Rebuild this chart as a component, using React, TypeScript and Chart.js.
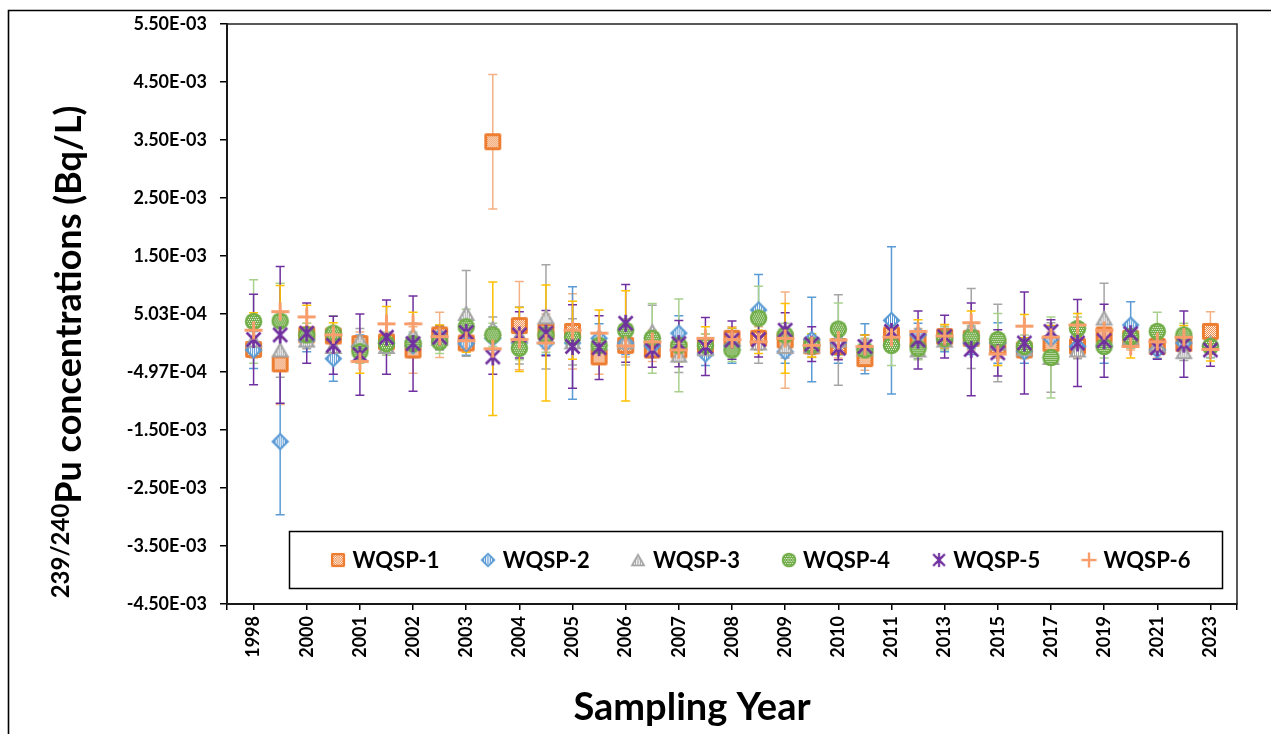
import React, { useEffect, useRef } from 'react';
import { Chart, registerables } from 'chart.js';

Chart.register(...registerables);

// ---------------- DATA ----------------
const categories = [
  '1998', '1999', '2000', '2000', '2001', '2001', '2002', '2002', '2003', '2003',
  '2004', '2004', '2005', '2005', '2006', '2006', '2007', '2007', '2008', '2008',
  '2009', '2009', '2010', '2010', '2011', '2012', '2013', '2014', '2015', '2016',
  '2017', '2018', '2019', '2020', '2021', '2022', '2023',
];

const seriesNames = ['WQSP-1', 'WQSP-2', 'WQSP-3', 'WQSP-4', 'WQSP-5', 'WQSP-6'];

// values in Bq/L
const wqsp1 = [-0.11e-3, -0.36e-3, 0.14e-3, 0.12e-3, -0.01e-3, 0.02e-3, -0.12e-3, 0.14e-3, 0.0, 3.47e-3, 0.30e-3, 0.20e-3, 0.20e-3, -0.24e-3, -0.04e-3, -0.12e-3, -0.12e-3, -0.05e-3, 0.08e-3, 0.08e-3, 0.05e-3, -0.05e-3, -0.06e-3, -0.27e-3, 0.14e-3, 0.05e-3, 0.11e-3, 0.08e-3, -0.06e-3, -0.12e-3, -0.01e-3, -0.06e-3, 0.14e-3, 0.08e-3, -0.06e-3, -0.01e-3, 0.20e-3];
const wqsp1Err = [0.15e-3, 0.70e-3, 0.20e-3, 0.15e-3, 0.20e-3, 0.15e-3, 0.40e-3, 0.39e-3, 0.15e-3, 1.16e-3, 0.76e-3, 0.30e-3, 0.65e-3, 0.30e-3, 0.20e-3, 0.20e-3, 0.20e-3, 0.20e-3, 0.20e-3, 0.20e-3, 0.83e-3, 0.20e-3, 0.20e-3, 0.20e-3, 0.20e-3, 0.20e-3, 0.20e-3, 0.20e-3, 0.20e-3, 0.15e-3, 0.20e-3, 0.20e-3, 0.20e-3, 0.20e-3, 0.20e-3, 0.20e-3, 0.34e-3];

const wqsp2 = [-0.12e-3, -1.70e-3, 0.05e-3, -0.27e-3, -0.06e-3, 0.0, -0.05e-3, 0.10e-3, -0.01e-3, 0.08e-3, 0.0, 0.0, 0.0, 0.08e-3, 0.0, -0.05e-3, 0.17e-3, -0.19e-3, -0.05e-3, 0.57e-3, -0.15e-3, 0.06e-3, 0.0, -0.10e-3, 0.39e-3, 0.14e-3, 0.05e-3, 0.0, 0.0, -0.15e-3, 0.08e-3, -0.06e-3, -0.05e-3, 0.31e-3, -0.12e-3, 0.0, -0.05e-3];
const wqsp2Err = [0.32e-3, 1.26e-3, 0.20e-3, 0.39e-3, 0.20e-3, 0.15e-3, 0.20e-3, 0.15e-3, 0.20e-3, 0.20e-3, 0.20e-3, 0.20e-3, 0.97e-3, 0.25e-3, 0.20e-3, 0.20e-3, 0.30e-3, 0.20e-3, 0.30e-3, 0.61e-3, 0.20e-3, 0.73e-3, 0.35e-3, 0.43e-3, 1.27e-3, 0.20e-3, 0.20e-3, 0.20e-3, 0.35e-3, 0.20e-3, 0.20e-3, 0.15e-3, 0.30e-3, 0.40e-3, 0.15e-3, 0.15e-3, 0.20e-3];

const wqsp3 = [0.05e-3, -0.12e-3, 0.05e-3, -0.06e-3, 0.05e-3, -0.06e-3, 0.14e-3, 0.08e-3, 0.51e-3, 0.25e-3, 0.13e-3, 0.45e-3, 0.02e-3, 0.0, 0.02e-3, 0.20e-3, -0.21e-3, -0.10e-3, 0.0, 0.0, -0.06e-3, -0.05e-3, 0.05e-3, -0.10e-3, 0.10e-3, -0.12e-3, 0.05e-3, 0.25e-3, 0.0, -0.10e-3, -0.25e-3, -0.12e-3, 0.43e-3, 0.10e-3, -0.04e-3, -0.15e-3, 0.0];
const wqsp3Err = [0.20e-3, 0.47e-3, 0.15e-3, 0.20e-3, 0.20e-3, 0.15e-3, 0.20e-3, 0.20e-3, 0.74e-3, 0.20e-3, 0.49e-3, 0.90e-3, 0.40e-3, 0.15e-3, 0.40e-3, 0.45e-3, 0.30e-3, 0.15e-3, 0.15e-3, 0.35e-3, 0.20e-3, 0.15e-3, 0.78e-3, 0.15e-3, 0.15e-3, 0.15e-3, 0.15e-3, 0.69e-3, 0.67e-3, 0.15e-3, 0.60e-3, 0.15e-3, 0.60e-3, 0.15e-3, 0.15e-3, 0.15e-3, 0.15e-3];

const wqsp4 = [0.37e-3, 0.38e-3, 0.14e-3, 0.17e-3, -0.15e-3, -0.01e-3, -0.01e-3, 0.02e-3, 0.28e-3, 0.14e-3, -0.09e-3, 0.14e-3, 0.10e-3, -0.04e-3, 0.22e-3, 0.08e-3, -0.04e-3, -0.04e-3, -0.12e-3, 0.43e-3, 0.14e-3, -0.04e-3, 0.24e-3, -0.12e-3, -0.04e-3, -0.09e-3, 0.08e-3, 0.10e-3, 0.06e-3, -0.06e-3, -0.25e-3, 0.25e-3, -0.06e-3, 0.11e-3, 0.20e-3, 0.14e-3, -0.06e-3];
const wqsp4Err = [0.72e-3, 0.65e-3, 0.20e-3, 0.30e-3, 0.20e-3, 0.20e-3, 0.20e-3, 0.20e-3, 0.30e-3, 0.20e-3, 0.20e-3, 0.30e-3, 0.20e-3, 0.20e-3, 0.20e-3, 0.60e-3, 0.80e-3, 0.20e-3, 0.20e-3, 0.55e-3, 0.20e-3, 0.20e-3, 0.45e-3, 0.20e-3, 0.35e-3, 0.20e-3, 0.20e-3, 0.20e-3, 0.45e-3, 0.20e-3, 0.70e-3, 0.20e-3, 0.20e-3, 0.20e-3, 0.33e-3, 0.20e-3, 0.20e-3];

const wqsp5 = [0.06e-3, 0.14e-3, 0.17e-3, -0.04e-3, -0.20e-3, 0.10e-3, -0.01e-3, 0.10e-3, 0.18e-3, -0.24e-3, 0.14e-3, 0.17e-3, -0.06e-3, -0.08e-3, 0.34e-3, -0.12e-3, -0.01e-3, -0.06e-3, 0.05e-3, 0.06e-3, 0.22e-3, -0.02e-3, -0.09e-3, -0.06e-3, 0.20e-3, 0.05e-3, 0.11e-3, -0.11e-3, -0.17e-3, 0.0, 0.20e-3, 0.0, 0.04e-3, 0.16e-3, -0.08e-3, -0.02e-3, -0.12e-3];
const wqsp5Err = [0.78e-3, 1.18e-3, 0.52e-3, 0.50e-3, 0.70e-3, 0.64e-3, 0.82e-3, 0.20e-3, 0.30e-3, 0.30e-3, 0.40e-3, 0.39e-3, 0.72e-3, 0.55e-3, 0.67e-3, 0.30e-3, 0.40e-3, 0.50e-3, 0.33e-3, 0.30e-3, 0.30e-3, 0.30e-3, 0.20e-3, 0.20e-3, 0.20e-3, 0.50e-3, 0.37e-3, 0.80e-3, 0.40e-3, 0.88e-3, 0.20e-3, 0.75e-3, 0.63e-3, 0.20e-3, 0.20e-3, 0.57e-3, 0.28e-3];

const wqsp6 = [0.22e-3, 0.54e-3, 0.45e-3, 0.14e-3, -0.32e-3, 0.33e-3, 0.33e-3, 0.11e-3, 0.04e-3, -0.10e-3, 0.06e-3, 0.0, 0.22e-3, 0.17e-3, -0.05e-3, 0.02e-3, -0.12e-3, 0.08e-3, 0.06e-3, 0.02e-3, 0.08e-3, -0.04e-3, 0.05e-3, -0.06e-3, 0.10e-3, 0.20e-3, 0.12e-3, 0.35e-3, -0.19e-3, 0.29e-3, 0.10e-3, 0.31e-3, 0.22e-3, -0.06e-3, 0.02e-3, 0.10e-3, -0.11e-3];
const wqsp6Err = [0.30e-3, 0.45e-3, 0.20e-3, 0.21e-3, 0.20e-3, 0.30e-3, 0.20e-3, 0.20e-3, 0.20e-3, 1.15e-3, 0.55e-3, 1.00e-3, 0.50e-3, 0.40e-3, 0.95e-3, 0.20e-3, 0.20e-3, 0.20e-3, 0.20e-3, 0.20e-3, 0.60e-3, 0.20e-3, 0.20e-3, 0.20e-3, 0.20e-3, 0.20e-3, 0.20e-3, 0.20e-3, 0.20e-3, 0.20e-3, 0.20e-3, 0.20e-3, 0.20e-3, 0.20e-3, 0.20e-3, 0.20e-3, 0.20e-3];

const yTickValues = [-4.5e-3, -3.5e-3, -2.5e-3, -1.5e-3, -0.5e-3, 0.5e-3, 1.5e-3, 2.5e-3, 3.5e-3, 4.5e-3, 5.5e-3];
const yTickLabels = ['-4.50E-03', '-3.50E-03', '-2.50E-03', '-1.50E-03', '-4.97E-04', '5.03E-04', '1.50E-03', '2.50E-03', '3.50E-03', '4.50E-03', '5.50E-03'];

const xTitle = 'Sampling Year';
const yTitleSup = '239/240';
const yTitleMain = 'Pu concentrations (Bq/L)';

// ---------------- STYLE ----------------
const seriesValues = [wqsp1, wqsp2, wqsp3, wqsp4, wqsp5, wqsp6];
const seriesErrors = [wqsp1Err, wqsp2Err, wqsp3Err, wqsp4Err, wqsp5Err, wqsp6Err];
const markerKinds = ['square', 'diamond', 'triangle', 'circle', 'asterisk', 'plus'];
const markerColors = ['#ED7D31', '#5B9BD5', '#A5A5A5', '#70AD47', '#7030A0', '#F79E6C'];
const errorColors = ['#F4B183', '#5B9BD5', '#A5A5A5', '#A9D18E', '#7030A0', '#FFC000'];
const FONT = 'Lato';

function makeMarker(kind: string, color: string): HTMLCanvasElement {
  const s = 19;
  const c = document.createElement('canvas');
  c.width = s;
  c.height = s;
  const g = c.getContext('2d') as CanvasRenderingContext2D;
  const m = s / 2;
  g.lineJoin = 'round';
  g.lineCap = 'butt';
  if (kind === 'square') {
    g.fillStyle = color;
    g.beginPath();
    g.roundRect(1, 1, 17, 17, 2);
    g.fill();
    g.fillStyle = '#FFFFFF';
    for (let y = 4; y < 15; y++) for (let x = 4; x < 15; x++) if ((x + y) % 2 === 0) g.fillRect(x, y, 1, 1);
  } else if (kind === 'diamond') {
    g.fillStyle = color;
    g.beginPath();
    g.moveTo(m, 0.5); g.lineTo(s - 0.5, m); g.lineTo(m, s - 0.5); g.lineTo(0.5, m); g.closePath();
    g.fill();
    g.save();
    g.beginPath();
    g.moveTo(m, 3.5); g.lineTo(s - 3.5, m); g.lineTo(m, s - 3.5); g.lineTo(3.5, m); g.closePath();
    g.clip();
    g.fillStyle = '#FFFFFF';
    for (let x = 5; x < 15; x += 2) g.fillRect(x, 0, 1, s);
    g.restore();
  } else if (kind === 'triangle') {
    g.fillStyle = color;
    g.beginPath();
    g.moveTo(m, 1); g.lineTo(s - 0.5, s - 2); g.lineTo(0.5, s - 2); g.closePath();
    g.fill();
    g.save();
    g.beginPath();
    g.moveTo(m, 5.5); g.lineTo(s - 4, s - 4); g.lineTo(4, s - 4); g.closePath();
    g.clip();
    g.fillStyle = '#FFFFFF';
    for (let x = 5; x < 15; x += 2) g.fillRect(x, 0, 1, s);
    g.restore();
  } else if (kind === 'circle') {
    g.fillStyle = color;
    g.beginPath();
    g.arc(m, m, 8.7, 0, Math.PI * 2);
    g.fill();
    g.save();
    g.beginPath();
    g.arc(m, m, 6.2, 0, Math.PI * 2);
    g.clip();
    g.fillStyle = 'rgba(255,255,255,0.9)';
    for (let y = 3; y < 17; y += 2) for (let x = 3 + ((y >> 1) % 2); x < 17; x += 2) g.fillRect(x, y, 1, 1);
    g.restore();
  } else if (kind === 'asterisk') {
    g.strokeStyle = color;
    g.lineWidth = 2.6;
    g.beginPath();
    g.moveTo(m - 7, m - 7); g.lineTo(m + 7, m + 7);
    g.moveTo(m + 7, m - 7); g.lineTo(m - 7, m + 7);
    g.moveTo(m, 1); g.lineTo(m, s - 1);
    g.stroke();
  } else if (kind === 'plus') {
    g.strokeStyle = color;
    g.lineWidth = 3;
    g.beginPath();
    g.moveTo(0.5, m); g.lineTo(s - 0.5, m);
    g.moveTo(m, 0.5); g.lineTo(m, s - 0.5);
    g.stroke();
  }
  return c;
}

export default function App() {
  const ref = useRef<HTMLCanvasElement>(null);

  useEffect(() => {
    const markers = markerKinds.map((k, i) => makeMarker(k, markerColors[i]));
    const n = categories.length;
    const xTicks = [-1, ...categories.map((_, i) => i).filter((i) => i % 2 === 0), n];

    const datasets = seriesValues.map((vals, i) => ({
      label: seriesNames[i],
      data: vals.map((v, j) => ({ x: j, y: v })),
      errors: seriesErrors[i],
      errorColor: errorColors[i],
      pointStyle: markers[i],
      pointRadius: 9,
      showLine: false,
      order: 5 - i,
    }));

    const errorBarPlugin = {
      id: 'errorBars',
      beforeDatasetsDraw(chart: any) {
        const { ctx, scales } = chart;
        const xs = scales.x;
        const ys = scales.y;
        ctx.save();
        ctx.lineWidth = 1.5;
        chart.data.datasets.forEach((ds: any) => {
          ctx.strokeStyle = ds.errorColor;
          ds.data.forEach((p: any, j: number) => {
            const e = ds.errors[j];
            const px = xs.getPixelForValue(p.x);
            const top = ys.getPixelForValue(p.y + e);
            const bot = ys.getPixelForValue(p.y - e);
            ctx.beginPath();
            ctx.moveTo(px, top); ctx.lineTo(px, bot);
            ctx.moveTo(px - 4.5, top); ctx.lineTo(px + 4.5, top);
            ctx.moveTo(px - 4.5, bot); ctx.lineTo(px + 4.5, bot);
            ctx.stroke();
          });
        });
        ctx.restore();
      },
    };

    const decorPlugin = {
      id: 'decor',
      afterDraw(chart: any) {
        const { ctx, chartArea } = chart;
        ctx.save();
        // outer frame (top & left visible)
        ctx.strokeStyle = '#000';
        ctx.lineWidth = 1.6;
        ctx.beginPath();
        ctx.moveTo(8.5, 734);
        ctx.lineTo(8.5, 10.5);
        ctx.lineTo(1271, 10.5);
        ctx.stroke();
        // plot area border
        ctx.strokeStyle = '#222';
        ctx.lineWidth = 1.5;
        ctx.strokeRect(chartArea.left, chartArea.top, chartArea.right - chartArea.left, chartArea.bottom - chartArea.top);

        // y title with superscript
        ctx.fillStyle = '#000';
        ctx.textAlign = 'left';
        ctx.textBaseline = 'alphabetic';
        ctx.font = `bold 24px ${FONT}`;
        const supW = ctx.measureText(yTitleSup).width;
        ctx.font = `bold 36px ${FONT}`;
        const mainW = ctx.measureText(yTitleMain).width;
        const total = supW + mainW;
        ctx.save();
        ctx.translate(81, 352 + total / 2);
        ctx.rotate(-Math.PI / 2);
        ctx.font = `bold 24px ${FONT}`;
        ctx.fillText(yTitleSup, 0, -12);
        ctx.font = `bold 36px ${FONT}`;
        ctx.fillText(yTitleMain, supW, 0);
        ctx.restore();

        // x title
        ctx.font = `bold 38px ${FONT}`;
        ctx.textAlign = 'center';
        ctx.fillText(xTitle, 692, 720);

        // legend
        ctx.fillStyle = '#FFFFFF';
        ctx.fillRect(289.5, 531.5, 933, 57);
        ctx.strokeStyle = '#000';
        ctx.lineWidth = 1.5;
        ctx.strokeRect(289.5, 531.5, 933, 57);
        ctx.font = `bold 22px ${FONT}`;
        ctx.textAlign = 'left';
        ctx.textBaseline = 'middle';
        ctx.fillStyle = '#000';
        chart.data.datasets.forEach((ds: any, i: number) => {
          const mx = 338 + 150.2 * i;
          ctx.drawImage(markers[i], Math.round(mx - 8), 552, 16, 16);
          ctx.fillText(ds.label, mx + 14.5, 561);
        });
        ctx.restore();
      },
    };

    const chart = new Chart(ref.current as HTMLCanvasElement, {
      type: 'scatter',
      data: { datasets: datasets as any },
      options: {
        responsive: false,
        animation: false,
        devicePixelRatio: 1,
        events: [],
        layout: { padding: { left: 0, top: 24, right: 34, bottom: 0 } },
        plugins: { legend: { display: false }, tooltip: { enabled: false } },
        scales: {
          x: {
            type: 'linear',
            min: -1,
            max: n,
            afterBuildTicks: (s: any) => {
              s.ticks = xTicks.map((v) => ({ value: v }));
            },
            afterFit: (s: any) => {
              s.height = 130;
            },
            ticks: {
              autoSkip: false,
              maxRotation: 90,
              minRotation: 90,
              padding: 6,
              color: '#000',
              font: { family: FONT, size: 18, weight: 'bold' },
              callback: (v: any) => (v >= 0 && v < n && v % 2 === 0 ? categories[v] : ''),
            },
            grid: { drawOnChartArea: false, drawTicks: true, tickLength: 6, color: '#000', lineWidth: 1.5 },
            border: { display: true, color: '#000', width: 2 },
          },
          y: {
            type: 'linear',
            min: yTickValues[0],
            max: yTickValues[yTickValues.length - 1],
            afterBuildTicks: (s: any) => {
              s.ticks = yTickValues.map((v) => ({ value: v }));
            },
            afterFit: (s: any) => {
              s.width = 227;
            },
            ticks: {
              padding: 13,
              color: '#000',
              font: { family: FONT, size: 18, weight: 'bold' },
              callback: (_v: any, i: number) => yTickLabels[i],
            },
            grid: { drawOnChartArea: false, drawTicks: true, tickLength: 7, color: '#000', lineWidth: 1.5 },
            border: { display: true, color: '#000', width: 2 },
          },
        },
      } as any,
      plugins: [errorBarPlugin, decorPlugin],
    });

    return () => chart.destroy();
  }, []);

  return (
    <div style={{ position: 'absolute', left: 0, top: 0, width: 1271, height: 734, background: '#FFFFFF' }}>
      <canvas ref={ref} width={1271} height={734} style={{ display: 'block' }} />
    </div>
  );
}
